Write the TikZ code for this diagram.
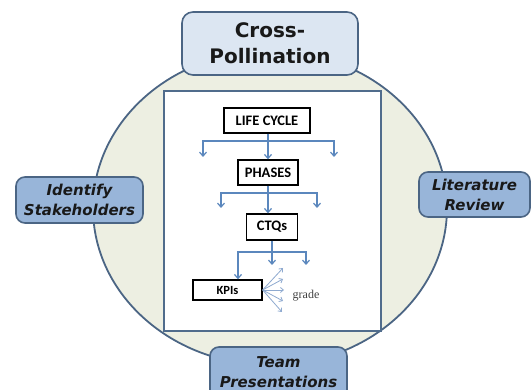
\documentclass[tikz,border=0pt]{standalone}
\usepackage{fontspec}
\setmainfont{DejaVu Sans}
\newfontfamily\flowfont{Carlito}
\newfontfamily\gradefont{Liberation Serif}
\usetikzlibrary{arrows.meta,shapes.geometric}
\definecolor{ringfill}{HTML}{EDEFE2}
\definecolor{ringline}{HTML}{4B6584}
\definecolor{topfill}{HTML}{DCE6F2}
\definecolor{boxfill}{HTML}{98B5D9}
\definecolor{flowblue}{HTML}{5B87BD}
\definecolor{fanblue}{HTML}{8FAAD0}
\definecolor{framecol}{HTML}{506C8C}
\tikzset{
  outerbox/.style={draw=ringline, line width=1.6pt, rounded corners=9pt, fill=boxfill,
    align=center, inner sep=0pt, text=black!90},
  sidelabel/.style={outerbox, font=\fontsize{15}{20}\selectfont\bfseries\itshape},
  flowbox/.style={draw=black, line width=1.3pt, fill=white, inner sep=0pt,
    font=\flowfont\bfseries\fontsize{14.5}{16}\selectfont},
  flowline/.style={draw=flowblue, line width=1.4pt},
  flowarrow/.style={flowline, -{Straight Barb[length=4pt,width=7pt,line width=1.2pt]}},
  fanarrow/.style={draw=fanblue, line width=0.8pt, -{Straight Barb[length=3pt,width=5pt]}}
}
\begin{document}
\begin{tikzpicture}[x=1pt,y=-1pt]
\clip (0,0) rectangle (531,390);
\fill[white] (0,0) rectangle (531,390);
% ring
\node[ellipse, draw=ringline, line width=1.8pt, fill=ringfill,
  minimum width=354pt, minimum height=314pt, inner sep=0pt] (ring) at (270,208) {};
% inner frame
\node[draw=framecol, line width=2pt, fill=white, minimum width=217pt,
  minimum height=240pt, inner sep=0pt] (frame) at (272.5,211) {};
% outer labels
\node[outerbox, fill=topfill, rounded corners=11pt, minimum width=176pt, minimum height=63pt,
  font=\fontsize{20}{26}\selectfont\bfseries] (cross) at (270,43.5) {Cross-\\Pollination};
\node[sidelabel, minimum width=127pt, minimum height=46pt] (ident) at (79.5,200) {Identify\\Stakeholders};
\node[sidelabel, minimum width=111pt, minimum height=45pt] (lit) at (474.5,194.5) {Literature\\Review};
\node[outerbox, minimum width=137pt, minimum height=52pt] (teamb) at (278.5,373) {};
\node[font=\fontsize{15}{20}\selectfont\bfseries\itshape, align=center, text=black!90]
  (team) at (278.5,372) {Team\\Presentations};
% flow boxes
\node[flowbox, minimum width=86pt, minimum height=25pt] (lc) at (267,120.5) {LIFE CYCLE};
\node[flowbox, minimum width=60pt, minimum height=25pt] (ph) at (268,172.5) {PHASES};
\node[flowbox, minimum width=51pt, minimum height=26pt] (ctq) at (272,227) {CTQs};
\node[flowbox, minimum width=69pt, minimum height=20pt,
  font=\flowfont\bfseries\fontsize{12.5}{14}\selectfont] (kpi) at (227.5,290) {KPIs};
% level 1
\coordinate (h1) at (268,141);
\coordinate (a1l) at (203,157);
\coordinate (a1r) at (334,157);
\draw[flowarrow] (lc.south -| ph.north) -- (ph.north);
\draw[flowarrow] (h1) -| (a1l);
\draw[flowarrow] (h1) -| (a1r);
% level 2
\coordinate (h2) at (268,193);
\coordinate (a2l) at (221,208);
\coordinate (a2r) at (317,208);
\draw[flowarrow] (ph.south) -- (ph.south |- ctq.north);
\draw[flowarrow] (h2) -| (a2l);
\draw[flowarrow] (h2) -| (a2r);
% level 3
\coordinate (h3) at (272,252);
\coordinate (a3l) at (238,277);
\coordinate (a3m) at (272,265);
\coordinate (a3r) at (306,265);
\draw[flowarrow] (ctq.south) -- (a3m);
\draw[flowarrow] (h3) -| (a3l |- kpi.north);
\draw[flowarrow] (h3) -| (a3r);
% fan
\coordinate (f1) at (283,268);
\coordinate (f2) at (283,279);
\coordinate (f3) at (284,290);
\coordinate (f4) at (283,301);
\coordinate (f5) at (282,312);
\foreach \f in {f1,f2,f3,f4,f5} \draw[fanarrow] (kpi.east) -- (\f);
\node[font=\gradefont\fontsize{12}{14}\selectfont, text=black!75] (grade) at (306,296) {grade};
\end{tikzpicture}
\end{document}
